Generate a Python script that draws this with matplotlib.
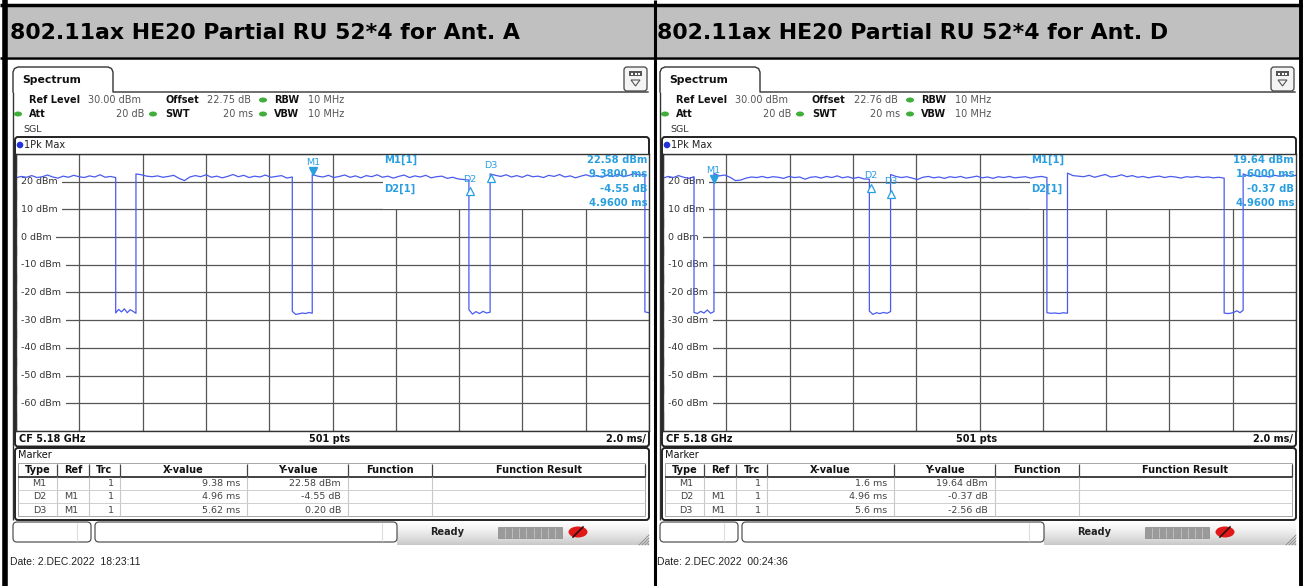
import numpy as np
import matplotlib.pyplot as plt
from matplotlib.patches import Rectangle, FancyBboxPatch, Polygon, Ellipse, Circle
from matplotlib.transforms import offset_copy

TITLES = ['802.11ax HE20 Partial RU 52*4 for Ant. A',
          '802.11ax HE20 Partial RU 52*4 for Ant. D']
OFFSETS = ['22.75 dB', '22.76 dB']
DATES = ['Date: 2.DEC.2022  18:23:11', 'Date: 2.DEC.2022  00:24:36']

Y_LEVELS = [20, 10, 0, -10, -20, -30, -40, -50, -60]

# Ant. A sweep: burst spans (ms), readings along each burst (dBm),
# and floor readings in the gap that follows each burst
A_ON = [(0.0, 3.15), (3.79, 8.73), (9.36, 14.31), (14.98, 19.87)]
A_ON_DBM = [
    [21.4, 21.9, 21.6, 22.2, 21.5, 21.8, 22.4, 21.7, 21.3, 22.0,
     21.6, 22.3, 21.8, 21.5, 22.1, 21.7, 22.5, 21.6, 21.9, 21.5],
    [22.8, 22.5, 22.0, 21.8, 22.1, 21.6, 21.9, 22.3, 21.2, 20.4,
     21.7, 22.2, 21.8, 22.5, 21.6, 22.0, 21.4, 21.9, 22.6, 21.8,
     22.3, 21.5, 22.0, 21.7, 22.4, 21.6, 21.9, 22.2, 21.3, 21.7],
    [22.6, 22.0, 21.7, 22.3, 21.5, 21.9, 22.4, 21.6, 22.1, 21.4,
     22.2, 21.8, 22.5, 21.6, 22.0, 21.3, 21.9, 22.4, 21.5, 22.1,
     21.7, 22.3, 21.4, 21.8, 22.0, 21.2, 21.6, 21.0, 20.8, 20.6],
    [22.8, 22.3, 21.9, 22.5, 21.7, 22.2, 21.6, 22.4, 21.8, 22.0,
     21.5, 22.3, 21.9, 22.6, 21.7, 22.1, 21.4, 22.0, 22.5, 21.8,
     22.2, 21.6, 22.4, 21.9, 22.7, 21.8, 22.3, 22.9, 22.4, 22.6],
]
A_OFF_DBM = [
    [-27.4, -26.1, -27.0, -25.9, -27.3, -26.2, -26.8, -27.5],
    [-26.8, -27.9, -27.7, -27.4, -27.6, -27.2, -27.5],
    [-26.2, -27.8, -26.9, -27.6, -26.8, -27.4, -27.1],
    [-27.0, -27.3],
]

# Ant. D sweep
D_ON = [(0.0, 0.98), (1.61, 6.52), (7.19, 12.13), (12.78, 17.73), (18.33, 20.0)]
D_ON_DBM = [
    [21.3, 21.9, 21.5, 22.2, 21.6, 21.2, 21.8],
    [23.0, 22.1, 22.4, 21.6, 20.4, 20.6, 21.3, 21.7, 21.5, 21.9,
     21.4, 21.8, 21.6, 21.2, 21.9, 21.5, 21.7, 20.9, 21.6, 21.8,
     21.3, 21.9, 21.5, 22.1, 21.4, 21.8, 21.2, 21.6, 21.0, 20.9],
    [22.6, 21.9, 21.5, 21.8, 21.3, 20.8, 21.6, 21.9, 21.4, 21.7,
     21.2, 21.8, 21.5, 21.9, 21.3, 21.6, 22.0, 21.4, 21.7, 21.2,
     21.8, 21.5, 21.9, 21.4, 21.6, 21.8, 21.3, 21.7, 21.9, 21.5],
    [23.1, 22.2, 22.0, 21.8, 22.3, 21.6, 22.1, 22.6, 21.7, 21.9,
     22.5, 21.8, 22.2, 21.6, 21.9, 21.4, 21.8, 22.0, 21.5, 21.9,
     21.7, 21.3, 21.8, 21.6, 21.9, 21.5, 21.7, 21.4, 21.6, 21.3],
    [22.8, 22.1, 22.4, 21.8, 22.2, 21.7, 22.3, 21.9, 22.5, 22.0, 22.3],
]
D_OFF_DBM = [
    [-27.2, -27.6, -26.8, -27.4, -26.3, -27.5, -26.9],
    [-26.7, -27.9, -27.3, -27.6, -27.2, -27.5, -26.9],
    [-27.3, -27.5, -27.4, -27.6, -27.3, -27.5],
    [-27.4, -27.6, -27.5, -27.2, -26.6, -27.3, -26.4],
]

M1_X = [9.38, 1.6]
M1_Y = [22.58, 19.64]
DELTA_X = [[4.96, 5.62], [4.96, 5.6]]
DELTA_Y = [[-4.55, 0.20], [-0.37, -2.56]]

SWEEP_MS = 20.0
UI = 'DejaVu Sans'
TRACE = '#4a5af0'
MARK = '#2a9fe0'
LINE = '#333333'

W, H = 1303, 586
fig = plt.figure(figsize=(W / 100, H / 100), dpi=100)
bg = fig.add_axes([0, 0, 1, 1])
bg.set_xlim(0, W)
bg.set_ylim(H, 0)
bg.axis('off')


def build_trace(spans, on_dbm, off_dbm):
    t, y = [], []
    for i, ((t0, t1), lv) in enumerate(zip(spans, on_dbm)):
        t.extend(np.linspace(t0, t1, len(lv)))
        y.extend(lv)
        if i < len(off_dbm):
            g1 = spans[i + 1][0] if i + 1 < len(spans) else SWEEP_MS
            t.extend(np.linspace(t1, g1, len(off_dbm[i])))
            y.extend(off_dbm[i])
    return np.array(t), np.array(y)


def txt(x, y, s, size=7, weight='normal', color='#222', ha='left', family=UI, z=3):
    bg.text(x, y, s, fontsize=size, fontweight=weight, color=color, ha=ha,
            va='center', family=family, zorder=z)


def rbox(x0, y0, x1, y1, fc='white', ec=LINE, lw=1.0, r=3, z=1):
    bg.add_patch(FancyBboxPatch((x0, y0), x1 - x0, y1 - y0,
                                boxstyle=f'round,pad=0,rounding_size={r}',
                                fc=fc, ec=ec, lw=lw, zorder=z))


def hline(x0, x1, y, color=LINE, lw=1.0, z=2):
    bg.plot([x0, x1], [y, y], color=color, lw=lw, zorder=z, solid_capstyle='butt')


def vline(x, y0, y1, color=LINE, lw=1.0, z=2):
    bg.plot([x, x], [y0, y1], color=color, lw=lw, zorder=z, solid_capstyle='butt')


# document table: grey title cells and black rules
bg.add_patch(Rectangle((3, 5), 1297, 52, fc='#c0c0c0', ec='none', zorder=0))
hline(0, W, 5, color='black', lw=2.5)
hline(0, W, 57.5, color='black', lw=1.8)
vline(5, 0, H, color='black', lw=4)
vline(654.5, 0, H, color='black', lw=2.2)
vline(1301, 0, H, color='black', lw=2.8)

traces = [build_trace(A_ON, A_ON_DBM, A_OFF_DBM),
          build_trace(D_ON, D_ON_DBM, D_OFF_DBM)]

for k in range(2):
    ox = 647 * k
    txt(10 + ox, 33, TITLES[k], size=15.8, weight='bold', color='black')

    # tab + header rule
    tab = [(13, 92), (13, 72), (14.5, 68.5), (18, 67), (108, 67),
           (111.5, 68.5), (113, 72), (113, 92), (648, 92)]
    bg.plot([p[0] + ox for p in tab], [p[1] for p in tab], color=LINE, lw=1.0, zorder=2)
    vline(13 + ox, 92, 520, lw=1.0)
    txt(22 + ox, 80, 'Spectrum', size=7.8, weight='bold', color='#111')

    # menu icon
    rbox(624 + ox, 67, 647 + ox, 91, fc='#f4f4f4', ec='#444', lw=0.9, r=3, z=3)
    bg.add_patch(Rectangle((629 + ox, 71), 13, 5, fc='#555', ec='none', zorder=4))
    for j in range(3):
        bg.add_patch(Rectangle((631 + ox + j * 3.5, 72.5), 2, 2, fc='white', ec='none', zorder=5))
    bg.add_patch(Polygon([(631 + ox, 80), (640 + ox, 80), (635.5 + ox, 86)],
                         closed=True, fc='none', ec='#555', lw=0.8, zorder=4))

    # instrument settings
    grn = '#3fae3a'
    txt(29 + ox, 100, 'Ref Level', weight='bold', color='#111')
    txt(88 + ox, 100, '30.00 dBm', color='#555')
    txt(165 + ox, 100, 'Offset', weight='bold', color='#111')
    txt(207 + ox, 100, OFFSETS[k], color='#555')
    txt(274 + ox, 100, 'RBW', weight='bold', color='#111')
    txt(308 + ox, 100, '10 MHz', color='#555')
    txt(29 + ox, 114, 'Att', weight='bold', color='#111')
    txt(144 + ox, 114, '20 dB', color='#555', ha='right')
    txt(165 + ox, 114, 'SWT', weight='bold', color='#111')
    txt(253 + ox, 114, '20 ms', color='#555', ha='right')
    txt(274 + ox, 114, 'VBW', weight='bold', color='#111')
    txt(308 + ox, 114, '10 MHz', color='#555')
    for (dx, dy) in [(263, 100), (18, 114), (153, 114), (263, 114)]:
        bg.add_patch(Ellipse((dx + ox, dy), 8, 5, fc=grn, ec='none', zorder=3))
    txt(23 + ox, 129, 'SGL', size=6.8, color='#333')

    # diagram frame
    rbox(15 + ox, 137, 649 + ox, 446.5, ec='#222', lw=1.4, r=3)
    bg.add_patch(Circle((20 + ox, 145), 3.3, fc='#2233dd', ec='none', zorder=3))
    txt(24 + ox, 145, '1Pk Max', size=7, color='#222')
    txt(19 + ox, 439, 'CF 5.18 GHz', weight='bold', color='#111')
    txt(330 + ox, 439, '501 pts', weight='bold', color='#111', ha='center')
    txt(646 + ox, 439, '2.0 ms/', weight='bold', color='#111', ha='right')

    # marker table
    rbox(15 + ox, 448, 649 + ox, 520, ec='#222', lw=1.4, r=3)
    txt(18 + ox, 455, 'Marker', size=7, color='#111')
    cols = [18, 57, 89, 120, 247, 348, 432, 645]
    heads = ['Type', 'Ref', 'Trc', 'X-value', 'Y-value', 'Function', 'Function Result']
    bg.add_patch(Rectangle((18 + ox, 463), 627, 53, fc='white', ec='#999', lw=0.6, zorder=2))
    hline(18 + ox, 645 + ox, 477, color='#333', lw=1.3, z=3)
    for c in cols[1:-1]:
        vline(c + ox, 464, 477, color='#444', lw=0.9, z=3)
        vline(c + ox, 477, 516, color='#c8c8c8', lw=0.8, z=3)
    vline(645 + ox, 464, 477, color='#444', lw=0.9, z=3)
    for ry in (490, 503):
        hline(18 + ox, 645 + ox, ry, color='#cfcfcf', lw=0.7, z=3)
    for h, c0, c1 in zip(heads, cols[:-1], cols[1:]):
        txt((c0 + c1) / 2 + ox, 470, h, weight='bold', color='#111', ha='center')

    mx, my = M1_X[k], M1_Y[k]
    rows = [('M1', '', '1', f'{mx:g} ms', f'{my:.2f} dBm')]
    for j in range(2):
        rows.append((f'D{j + 2}', 'M1', '1', f'{DELTA_X[k][j]:g} ms', f'{DELTA_Y[k][j]:.2f} dB'))
    right_edges = [46, 78, 114, 240, 341]
    for r_i, row in enumerate(rows):
        ry = 483.5 + r_i * 13.3
        for s, xr in zip(row, right_edges):
            txt(xr + ox, ry, s, size=6.8, color='#444', ha='right')

    # status bar
    grad = np.linspace(0.0, 0.32, 24).reshape(-1, 1)
    bg.imshow(grad, cmap='Greys', vmin=0, vmax=1, extent=(397 + ox, 649 + ox, 545, 521),
              origin='upper', aspect='auto', zorder=1)
    rbox(13 + ox, 522, 91 + ox, 542, ec='#555', lw=0.9, r=4, z=2)
    vline(77 + ox, 523, 541, color='#ddd', lw=0.8, z=3)
    rbox(95 + ox, 522, 397 + ox, 542, ec='#555', lw=0.9, r=4, z=2)
    vline(382 + ox, 523, 541, color='#ddd', lw=0.8, z=3)
    txt(447 + ox, 532, 'Ready', size=7, weight='bold', color='#222', ha='center')
    bg.add_patch(Rectangle((498 + ox, 527), 64, 11, fc='#9a9a9a', ec='#888', lw=0.5, zorder=3))
    for j in range(1, 9):
        vline(498 + ox + j * 7.1, 527.5, 537.5, color='#c4c4c4', lw=0.6, z=4)
    bg.add_patch(Ellipse((578 + ox, 532), 19, 11, fc='#e01818', ec='none', zorder=3))
    bg.plot([573 + ox, 583 + ox], [537, 527], color='#301010', lw=1.2, zorder=4)
    for j in range(4):
        bg.plot([639 + ox + j * 3, 649 + ox], [545, 535 + j * 3], color='#888',
                lw=0.6, zorder=4)

    txt(10 + ox, 562, DATES[k], size=7.5, color='#222', family='Liberation Sans')

    # measurement diagram
    ax = fig.add_axes([(16 + ox) / W, 1 - 431 / H, 633 / W, 277 / H])
    ax.set_xlim(0, SWEEP_MS)
    ax.set_ylim(-70, 30)
    ax.set_xticks(np.arange(0, SWEEP_MS + 1, 2))
    ax.set_yticks(np.arange(-70, 31, 10))
    ax.tick_params(length=0, labelbottom=False, labelleft=False)
    ax.set_axisbelow(True)
    ax.grid(True, color='#555555', lw=0.9)
    for sp in ax.spines.values():
        sp.set_color('#333')
        sp.set_linewidth(1.0)

    for lv in Y_LEVELS:
        ax.text(0.16, lv, f'{lv} dBm', fontsize=6.8, color='#333', family=UI,
                ha='left', va='center', zorder=1.6,
                bbox=dict(fc='white', ec='none', pad=3.2))

    # marker readout panel
    ax.add_patch(Rectangle(((383 - 16) / 633, 1 - (208.5 - 154) / 277),
                           1 - (383 - 16) / 633, (208.5 - 154) / 277,
                           transform=ax.transAxes, fc='white', ec='none', zorder=1.5))

    t, y = traces[k]
    ax.plot(t, y, color=TRACE, lw=0.9, zorder=2)

    def fx(px):
        return (px - 16) / 633

    def fy(py):
        return 1 - (py - 154) / 277

    dx2, dx3 = DELTA_X[k]
    dy2, dy3 = DELTA_Y[k]
    readout = [
        (fy(160), f'{my:.2f} dBm', 'M1[1]'),
        (fy(174), f'{mx:.4f} ms', None),
        (fy(188.5), f'{dy2:.2f} dB', 'D2[1]'),
        (fy(203), f'{dx2:.4f} ms', None),
    ]
    for ry, val, tag in readout:
        ax.text(fx(647), ry, val, transform=ax.transAxes, fontsize=7.2, weight='bold',
                color=MARK, ha='right', va='center', family=UI, zorder=3)
        if tag:
            ax.text(fx(384), ry, tag, transform=ax.transAxes, fontsize=7.2, weight='bold',
                    color=MARK, ha='left', va='center', family=UI, zorder=3)

    up4 = offset_copy(ax.transData, fig=fig, x=0, y=4, units='dots')
    dn4 = offset_copy(ax.transData, fig=fig, x=0, y=-4, units='dots')
    ax.plot([mx], [my], marker='v', ms=6, color=MARK, transform=up4, zorder=3)
    ax.annotate('M1', (mx, my), xytext=(0, 12), textcoords='offset pixels', fontsize=6.8,
                color=MARK, ha='center', va='center', family=UI, zorder=3)
    for name, ddx, ddy in [('D2', dx2, dy2), ('D3', dx3, dy3)]:
        px, py = mx + ddx, my + ddy
        ax.plot([px], [py], marker='^', ms=6, mfc='white', mec=MARK, mew=0.9,
                transform=dn4, zorder=3)
        ax.annotate(name, (px, py), xytext=(0, 8), textcoords='offset pixels', fontsize=6.8,
                    color=MARK, ha='center', va='center', family=UI, zorder=3)

bg.set_xlim(0, W)
bg.set_ylim(H, 0)

plt.savefig('out.png', dpi=100)
